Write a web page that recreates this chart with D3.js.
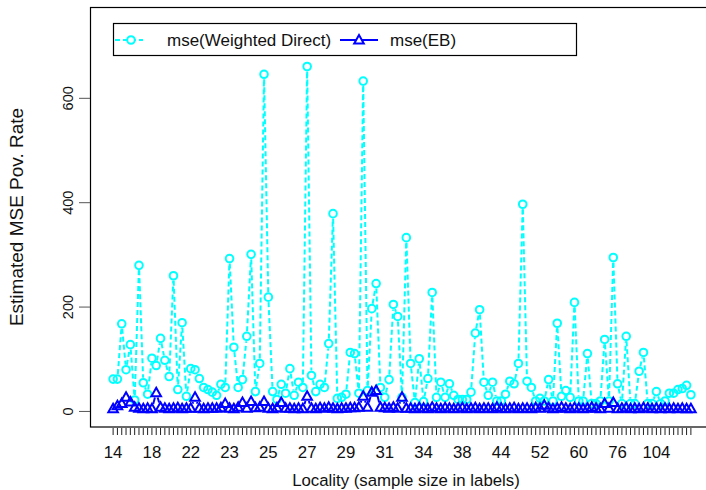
<!DOCTYPE html>
<html><head><meta charset="utf-8">
<script src="https://cdn.jsdelivr.net/npm/d3@7"></script>
<style>body{margin:0;background:#fff}svg{display:block}text{font-family:"Liberation Sans",Arial,sans-serif}</style>
</head><body>
<svg id="c" width="706" height="490"></svg>
<script>
const sampleSizeLabels = ["14","18","22","23","25","27","29","31","34","38","44","52","60","76","104"];
const mseDirect = [62,62,168,80,128,22,280,55,33,102,88,140,98,67,260,42,170,29,82,80,
63,46,42,37,31,52,46,293,123,46,61,144,301,38,92,646,219,38,23,52,
35,82,31,56,46,661,69,38,52,46,130,379,25,27,33,113,111,35,633,40,
197,245,46,27,61,205,182,27,333,92,17,101,19,63,228,27,56,27,53,31,
23,23,23,37,150,195,56,31,56,20,20,33,58,53,92,397,58,46,20,25,
20,61,20,169,29,40,27,209,20,20,111,15,15,20,138,20,295,53,15,144,
15,15,77,113,15,15,38,15,20,35,35,42,44,50,32];
const mseEB = [5,11,15,27,18,8,6,5,6,5,36,8,6,5,6,7,5,6,6,27,
6,5,6,6,6,7,15,6,5,8,17,6,19,7,8,19,6,5,7,17,
6,6,5,6,5,29,6,5,7,6,8,6,5,6,6,7,7,8,29,8,
37,40,8,7,6,8,6,27,6,6,5,7,6,5,8,6,5,7,6,5,
6,7,5,6,7,5,6,6,5,8,6,5,6,7,5,6,6,5,7,6,
12,7,5,6,8,6,5,7,6,5,6,8,6,5,15,6,17,5,6,7,
5,6,5,7,6,5,6,5,6,5,6,5,6,5,5];
const yTicks = [0,200,400,600];
const labelEvery = 9;

const svg = d3.select("#c");
const n = mseDirect.length;
const idx = d3.range(1, n+1);
const padX = 0.04*(n-1);
const x = d3.scaleLinear().domain([1-padX, n+padX]).range([90, 714]);
const y = d3.scaleLinear().domain([-29.8, 775]).range([427, 7]);

svg.append("rect").attr("x",90.5).attr("y",7.5).attr("width",623).attr("height",419.5)
  .attr("fill","none").attr("stroke","#000").attr("stroke-width",1.2);

const yAxis = svg.append("g");
yAxis.selectAll("line").data(yTicks).join("line")
  .attr("x1",79).attr("x2",90).attr("y1",d=>y(d)).attr("y2",d=>y(d))
  .attr("stroke","#555").attr("stroke-width",1);
yAxis.selectAll("text").data(yTicks).join("text")
  .attr("transform",d=>`translate(73,${y(d)}) rotate(-90)`)
  .attr("text-anchor","middle").attr("font-size",14.5).attr("fill","#111").text(d=>d);

const xAxis = svg.append("g");
xAxis.selectAll("line").data(idx).join("line")
  .attr("x1",d=>x(d)).attr("x2",d=>x(d)).attr("y1",428).attr("y2",435)
  .attr("stroke","#222").attr("stroke-width",1);
const labIdx = sampleSizeLabels.map((s,i)=>({s, i: 1 + i*labelEvery}));
xAxis.selectAll("text").data(labIdx).join("text")
  .attr("x",d=>x(d.i)).attr("y",458).attr("text-anchor","middle")
  .attr("font-size",16.8).attr("fill","#111").text(d=>d.s);

svg.append("text").attr("x",406).attr("y",485.5).attr("text-anchor","middle")
  .attr("font-size",16.8).attr("fill","#111").text("Locality (sample size in labels)");
svg.append("text").attr("transform","translate(23,217) rotate(-90)").attr("text-anchor","middle")
  .attr("font-size",19).attr("fill","#111").text("Estimated MSE Pov. Rate");

function gapSegments(vals, gap){
  const pts = vals.map((v,i)=>[x(i+1), y(v)]);
  const segs = [];
  for(let i=0;i<pts.length-1;i++){
    const [x1,y1]=pts[i],[x2,y2]=pts[i+1];
    const dx=x2-x1, dy=y2-y1, L=Math.hypot(dx,dy);
    if(L>2*gap){ segs.push([x1+dx/L*gap, y1+dy/L*gap, x2-dx/L*gap, y2-dy/L*gap]); }
  }
  return segs;
}
const cyan = "#00FFFF", blue = "#0000FF";
const plot = svg.append("g");
plot.append("g").selectAll("line").data(gapSegments(mseDirect,5)).join("line")
  .attr("x1",d=>d[0]).attr("y1",d=>d[1]).attr("x2",d=>d[2]).attr("y2",d=>d[3])
  .attr("stroke",cyan).attr("stroke-width",2).attr("stroke-dasharray","5,3");
plot.append("g").selectAll("circle").data(mseDirect).join("circle")
  .attr("cx",(d,i)=>x(i+1)).attr("cy",d=>y(d)).attr("r",3.8)
  .attr("fill","none").attr("stroke",cyan).attr("stroke-width",2);
plot.append("g").selectAll("line").data(gapSegments(mseEB,5)).join("line")
  .attr("x1",d=>d[0]).attr("y1",d=>d[1]).attr("x2",d=>d[2]).attr("y2",d=>d[3])
  .attr("stroke",blue).attr("stroke-width",2);
const tri = "M0,-5L4.8,3.5L-4.8,3.5Z";
plot.append("g").selectAll("path").data(mseEB).join("path")
  .attr("transform",(d,i)=>`translate(${x(i+1)},${y(d)})`).attr("d",tri)
  .attr("fill","none").attr("stroke",blue).attr("stroke-width",2);

const lg = svg.append("g");
lg.append("rect").attr("x",113.5).attr("y",23.5).attr("width",463).attr("height",32)
  .attr("fill","#fff").attr("stroke","#000").attr("stroke-width",1.2);
lg.append("line").attr("x1",115).attr("x2",143).attr("y1",40).attr("y2",40)
  .attr("stroke",cyan).attr("stroke-width",2).attr("stroke-dasharray","5,3");
lg.append("circle").attr("cx",131).attr("cy",40).attr("r",3.8).attr("fill","#fff")
  .attr("stroke",cyan).attr("stroke-width",2);
lg.append("text").attr("x",167).attr("y",46).attr("font-size",17).attr("fill","#111").text("mse(Weighted Direct)");
lg.append("line").attr("x1",340).attr("x2",378).attr("y1",40).attr("y2",40)
  .attr("stroke",blue).attr("stroke-width",2);
lg.append("path").attr("transform","translate(359,40)").attr("d",tri).attr("fill","#fff")
  .attr("stroke",blue).attr("stroke-width",2);
lg.append("text").attr("x",390).attr("y",46).attr("font-size",17).attr("fill","#111").text("mse(EB)");
</script>
</body></html>
